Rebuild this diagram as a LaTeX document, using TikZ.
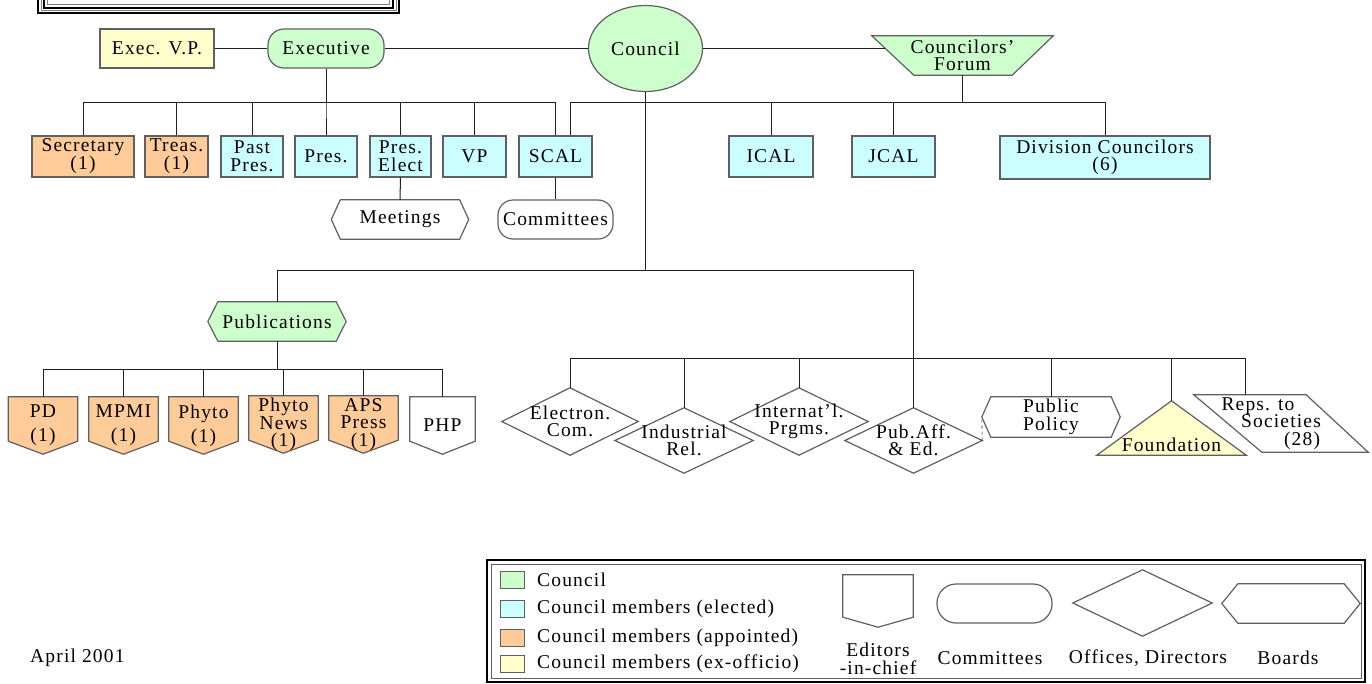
\documentclass[tikz,border=0pt]{standalone}
\usepackage{fontspec}
\setmainfont{Liberation Serif}[LetterSpace=6]
\usetikzlibrary{shapes.geometric,backgrounds}
\definecolor{cgreen}{HTML}{CCFFCC}
\definecolor{ccyan}{HTML}{CCFFFF}
\definecolor{corange}{HTML}{FFCC99}
\definecolor{cyellow}{HTML}{FFFFCC}
\definecolor{bdcol}{HTML}{606060}
\definecolor{lncol}{HTML}{202020}
\newcommand\pentpath[3]{\draw[bd,fill=#2] (#1.north west) -- (#1.north east) -- ([yshift=#3]#1.south east) -- (#1.south) -- ([yshift=#3]#1.south west) -- cycle;}
\newcommand\hexpath[3]{\draw[bd,fill=#2] (#1.west) -- ([xshift=#3]#1.north west) -- ([xshift=-#3]#1.north east) -- (#1.east) -- ([xshift=-#3]#1.south east) -- ([xshift=#3]#1.south west) -- cycle;}
\newcommand\diapath[2]{\draw[bd,fill=#2] (#1.north) -- (#1.east) -- (#1.south) -- (#1.west) -- cycle;}
\begin{document}
\begin{tikzpicture}[x=1pt,y=-1pt,
  every node/.style={font=\fontsize{19.5}{18}\selectfont, inner sep=0pt, align=center},
  tight/.style={font=\fontsize{19.5}{17.5}\selectfont},
  bd/.style={draw=bdcol, line width=1.2pt},
  box/.style={bd, rectangle, minimum height=41pt},
  ghost/.style={rectangle, draw=none, fill=none},
  conn/.style={draw=lncol, line width=1pt},
]
\useasboundingbox (0,0) rectangle (1372,683);

% title frame (cut off at top)
\draw[black, line width=2pt] (38,0) -- (38,13) -- (399,13) -- (399,0);
\draw[gray, line width=1pt] (41,0) -- (41,10.5) -- (396,10.5) -- (396,0);
\draw[black, line width=2pt] (44,0) -- (44,8) -- (393,8) -- (393,0);
\draw[gray, line width=1pt] (47.5,0) -- (47.5,4.5) -- (389.5,4.5) -- (389.5,0);

% top level
\node[box, fill=cyellow, minimum width=114pt, minimum height=39pt] (evp) at (157,48.5) {Exec. V.P.};
\node[bd, fill=cgreen, rounded corners=16pt, minimum width=116pt, minimum height=39pt] (exec) at (326,48.5) {Executive};
\node[bd, fill=cgreen, ellipse, minimum width=114pt, minimum height=86pt] (council) at (645.5,48.5) {Council};
\node[ghost, tight, minimum width=181pt, minimum height=39pt] (forum) at (962.5,55.5) {Councilors'\\Forum};

% second row
\node[box, fill=corange, minimum width=102pt] (sec) at (83,156.5) {Secretary\\(1)};
\node[box, fill=corange, minimum width=63pt] (treas) at (176.5,156.5) {Treas.\\(1)};
\node[box, fill=ccyan, minimum width=62pt] (past) at (252,156.5) {Past\\Pres.};
\node[box, fill=ccyan, minimum width=62pt] (pres) at (326,156.5) {Pres.};
\node[box, fill=ccyan, minimum width=61pt] (prese) at (400.5,156.5) {Pres.\\Elect};
\node[box, fill=ccyan, minimum width=63pt] (vp) at (474.5,156.5) {VP};
\node[box, fill=ccyan, minimum width=73pt] (scal) at (555.5,156.5) {SCAL};
\node[box, fill=ccyan, minimum width=84pt] (ical) at (771,156.5) {ICAL};
\node[box, fill=ccyan, minimum width=83pt] (jcal) at (893.5,156.5) {JCAL};
\node[box, fill=ccyan, minimum width=210pt, minimum height=43pt, tight] (div) at (1105,157.5) {Division Councilors\\(6)};

\node[ghost, minimum width=137pt, minimum height=39pt] (meet) at (400,219.5) {Meetings};
\node[bd, fill=white, rounded corners=15pt, minimum width=115pt, minimum height=39pt] (comm) at (555.5,219.5) {Committees};

% publications
\node[ghost, minimum width=138pt, minimum height=39pt] (pub) at (277,321.5) {Publications};
\node[ghost, minimum width=69pt, minimum height=57pt] (pd) at (43,425.5) {PD\\[6pt](1)};
\node[ghost, minimum width=69pt, minimum height=57pt] (mpmi) at (123.5,425.5) {MPMI\\[6pt](1)};
\node[ghost, minimum width=69pt, minimum height=57pt] (phyto) at (203.5,425.5) {Phyto\\[6pt](1)};
\node[ghost, tight, minimum width=69pt, minimum height=57pt] (pnews) at (283.5,424.5) {Phyto\\News\\(1)};
\node[ghost, tight, minimum width=69pt, minimum height=57pt] (aps) at (363.5,424.5) {APS\\Press\\(1)};
\node[ghost, minimum width=65pt, minimum height=57pt] (php) at (442.5,425.5) {PHP};

% offices
\node[ghost, tight, minimum width=136pt, minimum height=67pt] (elec) at (570,421.5) {Electron.\\Com.};
\node[ghost, tight, minimum width=138pt, minimum height=65pt] (indus) at (684,440.5) {Industrial\\Rel.};
\node[ghost, tight, minimum width=138pt, minimum height=67pt] (intl) at (799,421.5) {Internat'l.\\Prgms.};
\node[ghost, tight, minimum width=137pt, minimum height=65pt] (pubaff) at (913.5,440.5) {Pub.Aff.\\\& Ed.};
\node[ghost, tight, minimum width=138pt, minimum height=40pt] (pubpol) at (1051,417) {Public\\Policy};
\node[ghost, minimum width=149pt, minimum height=54pt] (found) at (1171.5,428) {\raisebox{-23pt}[0pt][0pt]{Foundation}};
\node[ghost, tight, minimum width=174pt, minimum height=57pt] (reps) at (1281,423.5) {\hspace*{-46pt}Reps. to\\Societies\\\hspace*{42pt}(28)};

% legend
\draw[black, line width=2pt] (487,560) rectangle (1365,682);
\draw[bdcol, line width=1pt] (491.5,564) rectangle (1361,678);
\node[bd, line width=1pt, fill=cgreen, minimum width=24pt, minimum height=17pt] (lg1) at (512,580) {};
\node[bd, line width=1pt, fill=ccyan, minimum width=24pt, minimum height=17pt] (lg2) at (512,608.5) {};
\node[bd, line width=1pt, fill=corange, minimum width=24pt, minimum height=17pt] (lg3) at (512,637.5) {};
\node[bd, line width=1pt, fill=cyellow, minimum width=24pt, minimum height=17pt] (lg4) at (512,664) {};
\node[anchor=west] (lt1) at (537,580) {Council};
\node[anchor=west] (lt2) at (537,608.5) {Council members (elected)};
\node[anchor=west] (lt3) at (537,637.5) {Council members (appointed)};
\node[anchor=west] (lt4) at (537,664) {Council members (ex-officio)};
\node[ghost, minimum width=70pt, minimum height=52pt] (lged) at (878,601) {};
\node[font=\fontsize{19.5}{17.5}\selectfont] (lgedt) at (878,659) {Editors\\-in-chief};
\node[bd, rounded corners=19pt, minimum width=115pt, minimum height=39pt] (lgcm) at (994.5,603.5) {};
\node (lgcmt) at (990,658) {Committees};
\node[ghost, minimum width=139pt, minimum height=66pt] (lgof) at (1142.5,603) {};
\node (lgoft) at (1148,658) {Offices, Directors};
\node[ghost, minimum width=138pt, minimum height=39pt] (lgbd) at (1291,603.5) {};
\node (lgbdt) at (1288,658) {Boards};

\node[anchor=west] (date) at (30,658) {April 2001};

% shapes on background
\begin{pgfonlayer}{background}
\draw[bd, fill=cgreen] (forum.north west) -- (forum.north east) -- ([xshift=-41pt]forum.south east) -- ([xshift=42pt]forum.south west) -- cycle;
\hexpath{meet}{white}{9pt}
\hexpath{pub}{cgreen}{10pt}
\pentpath{pd}{corange}{13pt}
\pentpath{mpmi}{corange}{13pt}
\pentpath{phyto}{corange}{13pt}
\pentpath{pnews}{corange}{13pt}
\pentpath{aps}{corange}{13pt}
\pentpath{php}{white}{13pt}
\diapath{elec}{white}
\diapath{indus}{white}
\diapath{intl}{white}
\diapath{pubaff}{white}
\hexpath{pubpol}{white}{9pt}
\draw[bd, fill=cyellow] (found.north) -- (found.south east) -- (found.south west) -- cycle;
\draw[bd, fill=white] (reps.north west) -- ([xshift=-62pt]reps.north east) -- (reps.south east) -- ([xshift=68pt]reps.south west) -- cycle;
\pentpath{lged}{white}{10pt}
\diapath{lgof}{white}
\hexpath{lgbd}{white}{16pt}
\end{pgfonlayer}

% connectors
\draw[conn] (evp.east) -- (exec.west);
\draw[conn] (exec.east) -- (council.west);
\draw[conn] (council.east) -- ([xshift=13pt]council.east -| forum.west);
\foreach \c in {sec,treas,past,pres,prese,vp,scal}
  \draw[conn] (exec.south) -- ++(0,34) -| (\c.north);
\foreach \c in {ical,jcal,div}
  \draw[conn] (forum.south) -- ++(0,27) -| (\c.north);
\draw[conn] (forum.south) -- ++(0,27) -| ([xshift=15pt]scal.north);
\draw[conn] (prese.south) -- (meet.north);
\draw[conn] (scal.south) -- (comm.north);
\draw[conn] (council.south) -- ++(0,178) -| (pub.north);
\draw[conn] (council.south) -- ++(0,178) -| (pubaff.north);
\coordinate (offbar) at ([yshift=49pt]pubaff.north);
\foreach \c in {elec,indus,intl,pubpol,found}
  \draw[conn] (offbar) -| (\c.north);
\draw[conn] (offbar) -| ([xshift=-36pt]reps.north);
\draw[conn, dashed, line width=0.6pt] (pubaff.east) -- (pubpol.west);
\foreach \c in {pd,mpmi,phyto,pnews,aps,php}
  \draw[conn] (pub.south) -- ++(0,28) -| (\c.north);
\end{tikzpicture}
\end{document}
